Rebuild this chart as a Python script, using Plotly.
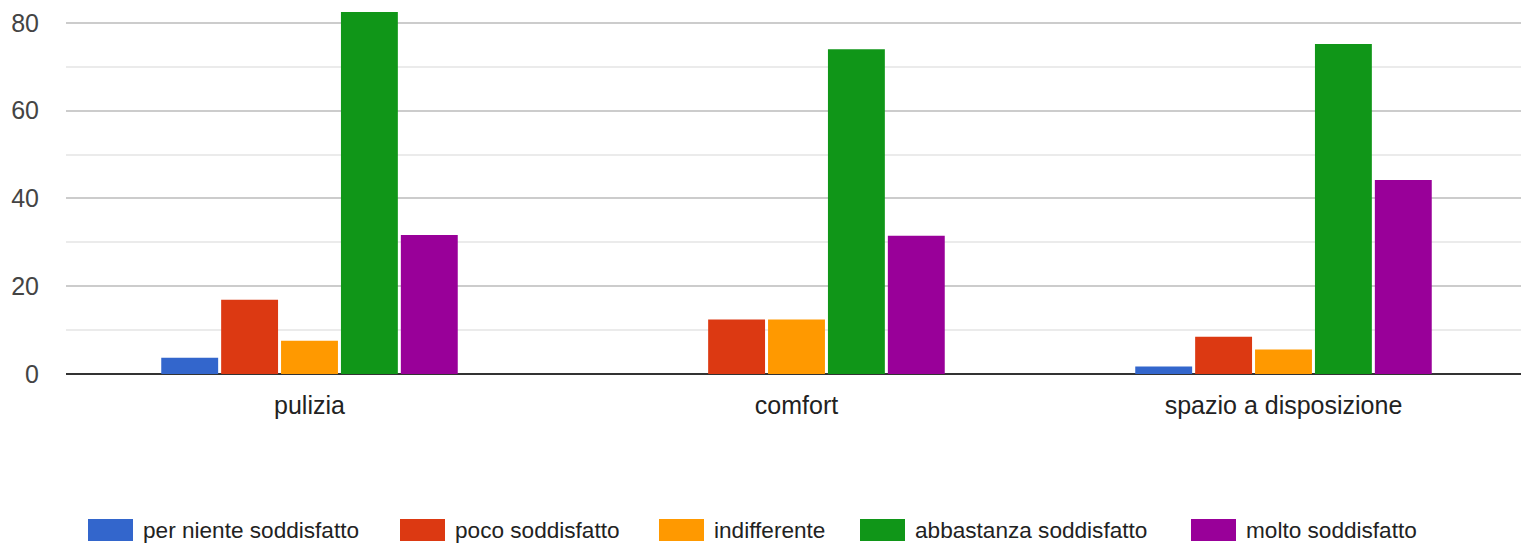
import plotly.graph_objects as go

# Survey results per aspect
categories = ["pulizia", "comfort", "spazio a disposizione"]
series_names = [
    "per niente soddisfatto",
    "poco soddisfatto",
    "indifferente",
    "abbastanza soddisfatto",
    "molto soddisfatto",
]
per_niente = [3.7, 0, 1.7]
poco = [16.9, 12.4, 8.5]
indifferente = [7.6, 12.4, 5.6]
abbastanza = [84.0, 74.0, 75.2]
molto = [31.7, 31.5, 44.2]
series_values = [per_niente, poco, indifferente, abbastanza, molto]
series_colors = ["#3366cc", "#dc3912", "#ff9900", "#109618", "#990099"]
y_ticks = [0, 20, 40, 60, 80]

W, H = 1521, 543
ML, MR, MT, MB = 66, 0, 12, 169
PW, PH = W - ML - MR, H - MT - MB
FONT = "Arial, 'Liberation Sans', sans-serif"

fig = go.Figure()
for name, vals, col in zip(series_names, series_values, series_colors):
    fig.add_trace(go.Bar(x=categories, y=vals, name=name,
                         marker=dict(color=col, line=dict(width=0)),
                         showlegend=False))

# Legend drawn as swatches plus labels beneath the plot
legend_px = [88, 400, 659, 860, 1191]
legend_y = 530
for name, col, lx in zip(series_names, series_colors, legend_px):
    x0 = (lx - ML) / PW
    x1 = (lx + 45 - ML) / PW
    y0 = (MT + PH - (legend_y + 11)) / PH
    y1 = (MT + PH - (legend_y - 11)) / PH
    fig.add_shape(type="rect", xref="paper", yref="paper",
                  x0=x0, x1=x1, y0=y0, y1=y1,
                  fillcolor=col, line=dict(width=0))
    fig.add_annotation(xref="paper", yref="paper",
                       x=(lx + 53 - ML) / PW,
                       y=(MT + PH - legend_y) / PH,
                       xanchor="left", yanchor="middle", showarrow=False,
                       text=name, font=dict(family=FONT, size=22.6, color="#222222"))

fig.update_layout(
    width=W, height=H,
    margin=dict(l=ML, r=MR, t=MT, b=MB, pad=0),
    paper_bgcolor="white", plot_bgcolor="white",
    barmode="group", bargap=0.385, bargroupgap=0.05,
    font=dict(family=FONT),
)
fig.update_xaxes(
    range=[-0.5, 2.5 - 6 / 487], showgrid=False, showline=False,
    ticks="", ticklabelstandoff=14,
    tickfont=dict(family=FONT, size=25, color="#222222"),
)
fig.update_yaxes(
    range=[0, 82.5], tickvals=y_ticks, showline=False, ticks="",
    gridcolor="#cccccc", gridwidth=2,
    zeroline=True, zerolinecolor="#333333", zerolinewidth=1.5,
    minor=dict(dtick=10, showgrid=True, gridcolor="#ebebeb", gridwidth=2),
    ticklabelstandoff=26,
    tickfont=dict(family=FONT, size=25, color="#444444"),
)

fig.write_html("out.html")
